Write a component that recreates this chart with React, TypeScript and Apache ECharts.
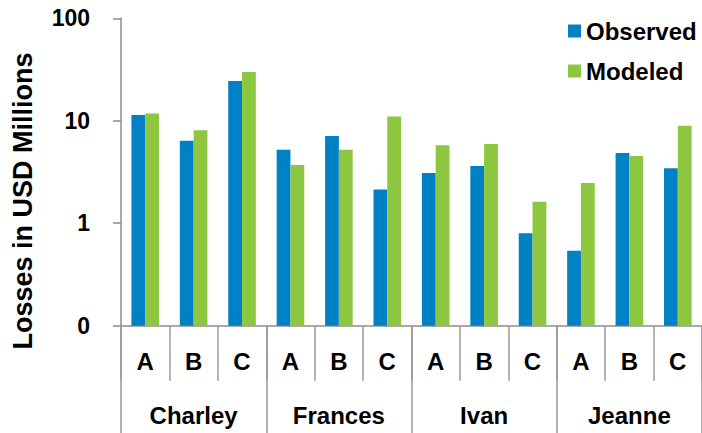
import React, { useEffect, useRef } from "react";
import * as echarts from "echarts";

const storms = ["Charley", "Frances", "Ivan", "Jeanne"];
const scenarios = ["A", "B", "C", "A", "B", "C", "A", "B", "C", "A", "B", "C"];
const observed = [11.4, 6.4, 24.4, 5.2, 7.1, 2.14, 3.1, 3.62, 0.8, 0.54, 4.85, 3.44];
const modeled = [11.8, 8.1, 29.9, 3.7, 5.2, 11.0, 5.76, 5.93, 1.62, 2.47, 4.53, 8.95];
const yTickLabels = ["0", "1", "10", "100"];
const yTitle = "Losses in USD Millions";

// log axis floor is 0.1 (shown as "0"); bars are drawn from that floor
const LOG_FLOOR = 0.1;
const toAxis = (v: number) => Math.log10(v / LOG_FLOOR);

const FONT = "'Liberation Sans', Arial, sans-serif";

export default function App() {
  const ref = useRef<HTMLDivElement>(null);
  useEffect(() => {
    if (!ref.current) return;
    const chart = echarts.init(ref.current, undefined, { renderer: "svg" });
    const axisGray = "#8c8c8c";
    chart.setOption({
      animation: false,
      backgroundColor: "#ffffff",
      grid: { left: 121, right: -11.4, top: 18.3, bottom: 107.3, containLabel: false },
      legend: {
        orient: "vertical",
        left: 568,
        top: 19,
        padding: 0,
        itemWidth: 13,
        itemHeight: 13,
        itemGap: 16,
        icon: "rect",
        textStyle: { fontFamily: FONT, fontWeight: "bold", fontSize: 24, color: "#000" },
        data: ["Observed", "Modeled"],
      },
      xAxis: [
        {
          type: "category",
          data: scenarios,
          position: "bottom",
          axisLine: { show: true, lineStyle: { color: axisGray, width: 1.5 } },
          axisTick: { show: true, length: 55, interval: 0, lineStyle: { color: "#9a9a9a", width: 1.5 } },
          axisLabel: {
            interval: 0,
            margin: 36,
            verticalAlign: "middle",
            fontFamily: FONT,
            fontWeight: "bold",
            fontSize: 24,
            color: "#000",
          },
        },
        {
          type: "category",
          data: storms,
          position: "bottom",
          offset: 0,
          axisLine: { show: false },
          axisTick: { show: true, length: 110, interval: 0, lineStyle: { color: "#9a9a9a", width: 1.5 } },
          axisLabel: {
            interval: 0,
            margin: 89.5,
            verticalAlign: "middle",
            fontFamily: FONT,
            fontWeight: "bold",
            fontSize: 24,
            color: "#000",
          },
        },
      ],
      yAxis: {
        type: "value",
        min: 0,
        max: 3,
        interval: 1,
        splitLine: { show: false },
        axisLine: { show: true, lineStyle: { color: axisGray, width: 1.5 } },
        axisTick: { show: true, length: 8, lineStyle: { color: axisGray, width: 1.5 } },
        axisLabel: {
          margin: 31,
          fontFamily: FONT,
          fontWeight: "bold",
          fontSize: 23,
          color: "#000",
          formatter: (v: number) => yTickLabels[Math.round(v)] ?? "",
        },
      },
      graphic: [
        {
          type: "text",
          x: 22.5,
          y: 201,
          rotation: Math.PI / 2,
          style: {
            text: yTitle,
            fontFamily: FONT,
            fontWeight: "bold",
            fontSize: 27,
            fill: "#000",
            textAlign: "center",
            textVerticalAlign: "middle",
          },
        },
      ],
      series: [
        {
          name: "Observed",
          type: "bar",
          xAxisIndex: 0,
          data: observed.map(toAxis),
          barWidth: 13.8,
          barGap: "0%",
          itemStyle: { color: "#0081C6" },
        },
        {
          name: "Modeled",
          type: "bar",
          xAxisIndex: 0,
          data: modeled.map(toAxis),
          barWidth: 13.8,
          barGap: "0%",
          itemStyle: { color: "#8DC63F" },
        },
      ],
    });
    return () => chart.dispose();
  }, []);
  return (
    <div style={{ position: "fixed", left: 0, top: 0, width: 702, height: 433, overflow: "hidden" }}>
      <div ref={ref} style={{ position: "absolute", left: 0, top: 0, width: 702, height: 433 }} />
    </div>
  );
}
